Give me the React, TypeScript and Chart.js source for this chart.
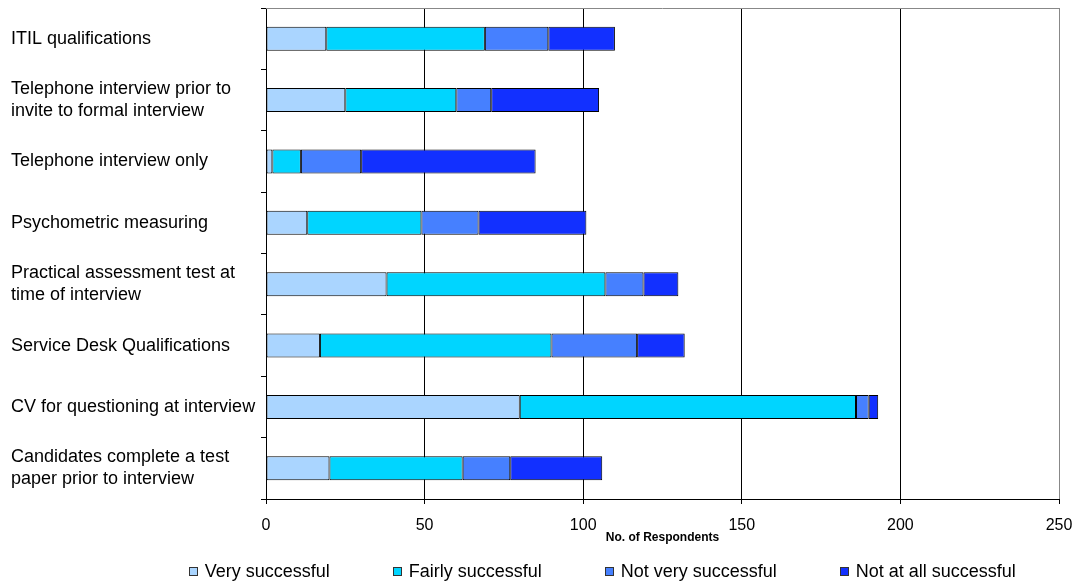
import { useEffect, useRef } from "react";
import { Chart, registerables } from "chart.js";

Chart.register(...registerables);

// Recruitment methods, listed top to bottom
const categories: (string | string[])[] = [
  "ITIL qualifications",
  ["Telephone interview prior to", "invite to formal interview"],
  "Telephone interview only",
  "Psychometric measuring",
  ["Practical assessment test at", "time of interview"],
  "Service Desk Qualifications",
  "CV for questioning at interview",
  ["Candidates complete a test", "paper prior to interview"],
];

const seriesNames = [
  "Very successful",
  "Fairly successful",
  "Not very successful",
  "Not at all successful",
];

// Number of respondents per rating
const verySuccessful = [19, 25, 2, 13, 38, 17, 80, 20];
const fairlySuccessful = [50, 35, 9, 36, 69, 73, 106, 42];
const notVerySuccessful = [20, 11, 19, 18, 12, 27, 4, 15];
const notAtAllSuccessful = [21, 34, 55, 34, 11, 15, 3, 29];

const xTicks = [0, 50, 100, 150, 200, 250];
const axisTitle = "No. of Respondents";

const seriesColors = ["#AAD5FF", "#00D5FF", "#4680FF", "#1230FF"];

const FONT = "'Liberation Sans', Arial, Helvetica, sans-serif";

// Plot frame top edge, axis title and the legend row underneath
const overlayPlugin = {
  id: "overlay",
  afterDraw(chart: any) {
    const { ctx, chartArea } = chart;
    const { left, right, top, bottom } = chartArea;
    ctx.save();

    ctx.strokeStyle = "#888";
    ctx.lineWidth = 1;
    ctx.beginPath();
    ctx.moveTo(left, Math.round(top) + 0.5);
    ctx.lineTo(right, Math.round(top) + 0.5);
    ctx.stroke();

    ctx.fillStyle = "#000";
    ctx.font = `bold 12px ${FONT}`;
    ctx.textAlign = "center";
    ctx.textBaseline = "middle";
    ctx.fillText(axisTitle, (left + right) / 2, bottom + 39);

    ctx.font = `18px ${FONT}`;
    ctx.textAlign = "left";
    const box = 9;
    const textGap = 7;
    const itemGap = 63;
    const widths = seriesNames.map((n) => ctx.measureText(n).width);
    const total =
      widths.reduce((acc, w) => acc + box + textGap + w, 0) +
      itemGap * (seriesNames.length - 1);
    const centerX = left + (right - left) * 0.424;
    let x = centerX - total / 2;
    const y = bottom + 72;
    seriesNames.forEach((name, i) => {
      const bx = Math.round(x) + 0.5;
      const by = Math.round(y - box / 2) + 0.5;
      ctx.fillStyle = seriesColors[i];
      ctx.fillRect(bx, by, box - 1, box - 1);
      ctx.strokeStyle = "#333";
      ctx.strokeRect(bx, by, box - 1, box - 1);
      ctx.fillStyle = "#000";
      ctx.fillText(name, x + box + textGap, y + 1);
      x += box + textGap + widths[i] + itemGap;
    });

    ctx.restore();
  },
};

export default function App() {
  const canvasRef = useRef<HTMLCanvasElement | null>(null);

  useEffect(() => {
    if (!canvasRef.current) return;
    const values = [verySuccessful, fairlySuccessful, notVerySuccessful, notAtAllSuccessful];

    const chart = new Chart(canvasRef.current, {
      type: "bar",
      data: {
        labels: categories,
        datasets: seriesNames.map((name, i) => ({
          label: name,
          data: values[i],
          backgroundColor: seriesColors[i],
          borderColor: "#000",
          borderWidth: 1,
          borderSkipped: false,
          categoryPercentage: 1,
          barPercentage: 0.39,
        })),
      },
      options: {
        indexAxis: "y",
        responsive: false,
        animation: false,
        layout: { padding: { left: 11, right: 21, top: 8, bottom: 0 } },
        plugins: {
          legend: { display: false },
          tooltip: { enabled: false },
        },
        scales: {
          x: {
            stacked: true,
            min: xTicks[0],
            max: xTicks[xTicks.length - 1],
            afterBuildTicks: (scale: any) => {
              scale.ticks = xTicks.map((v) => ({ value: v }));
            },
            afterFit: (scale: any) => {
              scale.height = 84;
              scale.paddingLeft = 0;
              scale.paddingRight = 0;
            },
            ticks: {
              color: "#000",
              font: { family: FONT, size: 16 },
              padding: 12,
              maxRotation: 0,
            },
            grid: {
              color: (c: any) => (c.tick && c.tick.value === 250 ? "#888" : "#000"),
              tickColor: "#000",
              tickLength: 5,
              drawTicks: true,
            },
            border: { display: true, color: "#000", width: 1 },
          },
          y: {
            stacked: true,
            afterFit: (scale: any) => {
              scale.width = 255;
              scale.paddingTop = 0;
              scale.paddingBottom = 0;
            },
            ticks: {
              color: "#000",
              font: { family: FONT, size: 18 },
              crossAlign: "far",
              autoSkip: false,
            },
            grid: {
              offset: true,
              drawOnChartArea: false,
              drawTicks: true,
              tickLength: 5,
              color: "#000",
              tickColor: "#000",
            },
            border: { display: true, color: "#000", width: 1 },
          },
        },
      },
      plugins: [overlayPlugin],
    });

    return () => chart.destroy();
  }, []);

  return (
    <div style={{ position: "absolute", left: 0, top: 0, width: 1080, height: 583, background: "#fff" }}>
      <canvas ref={canvasRef} width={1080} height={583} />
    </div>
  );
}
